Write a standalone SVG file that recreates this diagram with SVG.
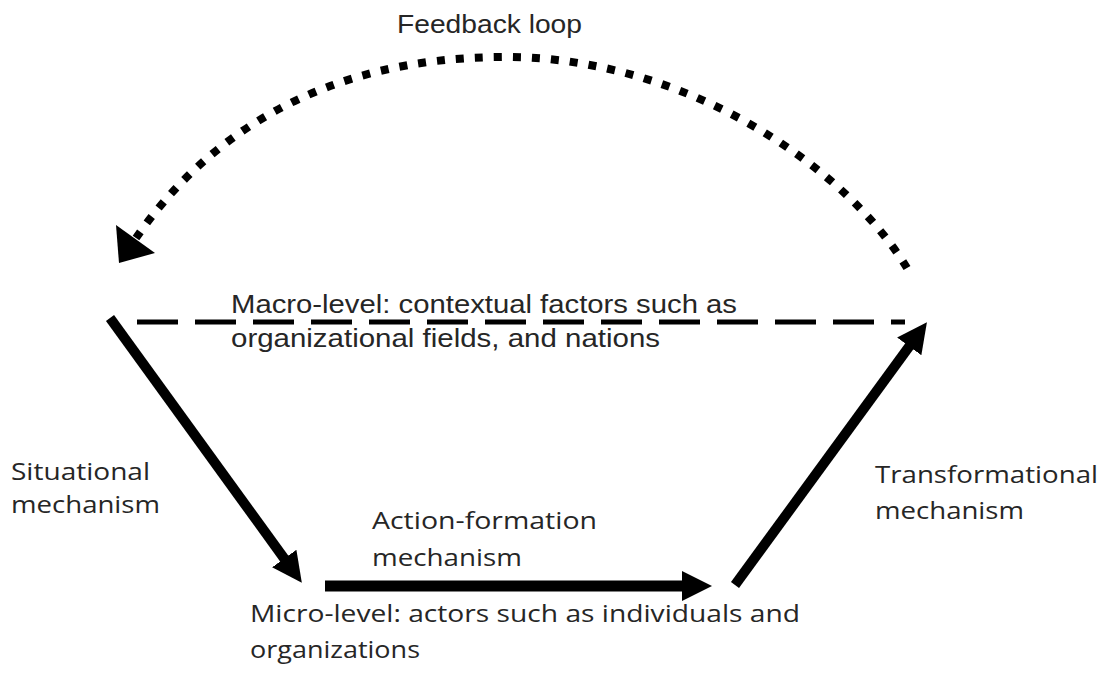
<svg xmlns="http://www.w3.org/2000/svg" width="1109" height="675" viewBox="0 0 1109 675">
  <style>
    .lbl { font-family: "Open Sans", "Liberation Sans", sans-serif; font-size: 23px; fill: #262626; }
    .cnd { font-family: "Liberation Sans Narrow", "Liberation Sans", sans-serif; font-size: 25px; fill: #262626; }
    .arrow { stroke: #000; stroke-width: 10; fill: none; stroke-linecap: butt; }
  </style>
  <defs>
    <marker id="head" viewBox="0 0 30 30" refX="3" refY="15" markerWidth="30" markerHeight="30" markerUnits="userSpaceOnUse" orient="auto">
      <path d="M0,0 L30,15 L0,30 z" fill="#000"/>
    </marker>
  </defs>
  <rect width="1109" height="675" fill="#fff"/>

  <g id="connectors">
    <path id="feedback-loop" d="M907,268 C845,166 685,57 505,57 C320,57 205,138 136,238" stroke="#000" stroke-width="8" fill="none" stroke-dasharray="8 11"/>
    <polygon points="116,225 155,253 119,263" fill="#000"/>
    <line id="macro-line" x1="137" y1="322" x2="905" y2="322" stroke="#000" stroke-width="5" stroke-dasharray="41 17"/>
    <line id="situational" class="arrow" x1="110" y1="318" x2="286" y2="561" marker-end="url(#head)"/>
    <line id="action-formation" class="arrow" style="stroke-width:11" x1="325" y1="586" x2="685" y2="586" marker-end="url(#head)"/>
    <line id="transformational" class="arrow" x1="735" y1="585" x2="911" y2="344" marker-end="url(#head)"/>
  </g>

  <g id="feedback-label">
    <text class="cnd" x="397" y="33" textLength="185" lengthAdjust="spacingAndGlyphs">Feedback loop</text>
  </g>
  <g id="macro-level">
    <text class="cnd" x="231" y="313" textLength="506" lengthAdjust="spacingAndGlyphs">Macro-level: contextual factors such as</text>
    <text class="cnd" x="231" y="347" textLength="429" lengthAdjust="spacingAndGlyphs">organizational fields, and nations</text>
  </g>
  <g id="situational-label">
    <text class="lbl" x="11" y="480" textLength="139" lengthAdjust="spacingAndGlyphs">Situational</text>
    <text class="lbl" x="11" y="513" textLength="149" lengthAdjust="spacingAndGlyphs">mechanism</text>
  </g>
  <g id="action-label">
    <text class="lbl" x="372" y="529" textLength="225" lengthAdjust="spacingAndGlyphs">Action-formation</text>
    <text class="lbl" x="372" y="566" textLength="150" lengthAdjust="spacingAndGlyphs">mechanism</text>
  </g>
  <g id="micro-level">
    <text class="lbl" x="250" y="622" textLength="550" lengthAdjust="spacingAndGlyphs">Micro-level: actors such as individuals and</text>
    <text class="lbl" x="250" y="658" textLength="170" lengthAdjust="spacingAndGlyphs">organizations</text>
  </g>
  <g id="transformational-label">
    <text class="lbl" x="875" y="483" textLength="223" lengthAdjust="spacingAndGlyphs">Transformational</text>
    <text class="lbl" x="875" y="519" textLength="149" lengthAdjust="spacingAndGlyphs">mechanism</text>
  </g>
</svg>
